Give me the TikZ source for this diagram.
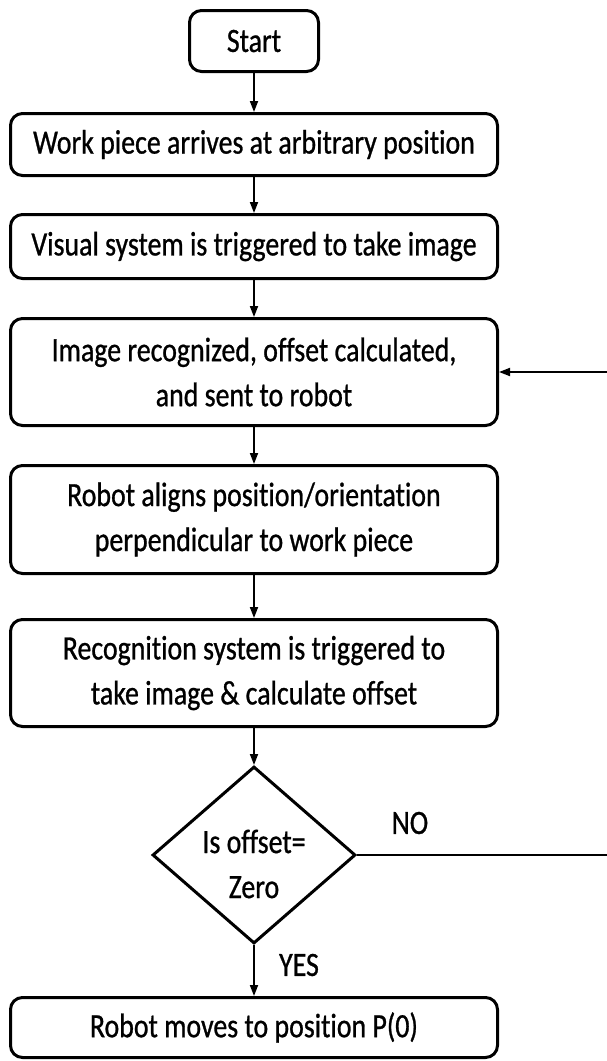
\documentclass[tikz,border=0pt]{standalone}
\usepackage{fontspec}
\setmainfont[FakeStretch=0.82, FakeBold=0.8, Ligatures=NoCommon]{Carlito}
\usetikzlibrary{shapes.geometric,arrows.meta}

\tikzset{
  every node/.style={font=\fontsize{34pt}{45pt}\selectfont},
  procbox/.style={draw, line width=3pt, rounded corners=12pt, inner sep=0pt,
    align=center, minimum width=487pt},
  decision/.style={draw, diamond, line width=3pt, inner sep=0pt,
    minimum width=203pt, minimum height=177pt},
  flow/.style={line width=1.8pt, -{Triangle[length=11pt,width=8pt]}},
  plainline/.style={line width=2pt}
}

\begin{document}
\begin{tikzpicture}[x=1pt,y=-1pt]
  \useasboundingbox (0,0) rectangle (606,1061);

  % process steps, top to bottom
  \node[procbox, minimum width=129pt, minimum height=61pt] (start) at (254,41) {Start};
  \node[procbox, minimum height=62pt] (arrive) at (254,144.5) {Work piece arrives at arbitrary position};
  \node[procbox, minimum height=64pt] (visual) at (254,246.5) {Visual system is triggered to take image};
  \node[procbox, minimum height=107pt] (recog) at (254,372) {Image recognized, offset calculated,\\and sent to robot};
  \node[procbox, minimum height=108pt] (align) at (254,519.5) {Robot aligns position/orientation\\perpendicular to work piece};
  \node[procbox, minimum height=107pt] (trigger) at (254,673) {Recognition system is triggered to\\take image \& calculate offset};
  \node[decision] (check) at (254,855) {};
  \node[align=center] (checktext) at ([yshift=-9pt]check.center) {Is offset=\\Zero};
  \node[procbox, minimum height=60pt] (final) at (254,1027.5) {Robot moves to position P(0)};

  % main flow
  \draw[flow] (start) -- (arrive);
  \draw[flow] (arrive) -- (visual);
  \draw[flow] (visual) -- (recog);
  \draw[flow] (recog) -- (align);
  \draw[flow] (align) -- (trigger);
  \draw[flow] (trigger) -- (check);
  \draw[flow] (check) -- (final);

  % loop back when the offset is not zero
  \coordinate (loop) at (610,855);
  \draw[plainline] (check.east) -- (loop);
  \draw[flow] (loop) |- (recog.east);

  % branch labels
  \node (no) at (410,823) {NO};
  \node (yes) at (299,965) {YES};
\end{tikzpicture}
\end{document}
